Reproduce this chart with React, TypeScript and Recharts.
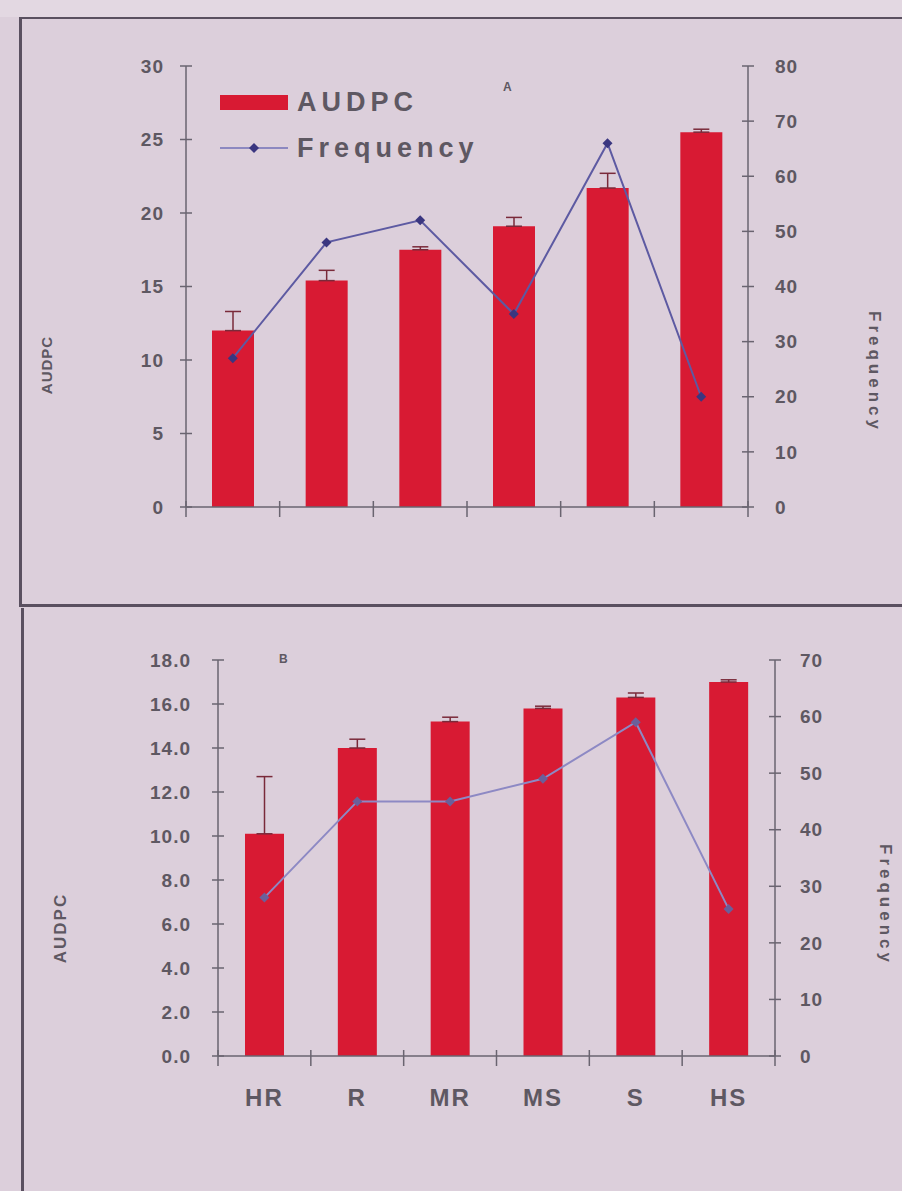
import React from 'react';
import {
  ComposedChart,
  Bar,
  Line,
  XAxis,
  YAxis,
  ErrorBar,
} from 'recharts';

const categories = ['HR', 'R', 'MR', 'MS', 'S', 'HS'];

// panel A
const audpcA = [12.0, 15.4, 17.5, 19.1, 21.7, 25.5];
const audpcErrA = [1.3, 0.7, 0.2, 0.6, 1.0, 0.2];
const freqA = [27, 48, 52, 35, 66, 20];
const leftTicksA = [0, 5, 10, 15, 20, 25, 30];
const rightTicksA = [0, 10, 20, 30, 40, 50, 60, 70, 80];

// panel B
const audpcB = [10.1, 14.0, 15.2, 15.8, 16.3, 17.0];
const audpcErrB = [2.6, 0.4, 0.2, 0.1, 0.2, 0.1];
const freqB = [28, 45, 45, 49, 59, 26];
const leftTicksB = [0, 2, 4, 6, 8, 10, 12, 14, 16, 18];
const rightTicksB = [0, 10, 20, 30, 40, 50, 60, 70];

const dataA = categories.map((c, i) => ({
  name: c,
  audpc: audpcA[i],
  err: [0, audpcErrA[i]],
  freq: freqA[i],
}));
const dataB = categories.map((c, i) => ({
  name: c,
  audpc: audpcB[i],
  err: [0, audpcErrB[i]],
  freq: freqB[i],
}));

const BG = '#dccfdb';
const TEXT = '#5e5862';
const AXIS = '#6a6470';
const RED = '#d81a33';
const FONT = '"Liberation Sans", Arial, sans-serif';

const makeXTick = (band: number, showLabel: boolean) => (props: any) => {
  const { x, y, payload, index } = props;
  return (
    <g key={`xt-${index}`}>
      <line x1={x - band / 2} x2={x - band / 2} y1={y - 6} y2={y + 10} stroke={AXIS} strokeWidth={1.5} />
      {index === categories.length - 1 && (
        <line x1={x + band / 2} x2={x + band / 2} y1={y - 6} y2={y + 10} stroke={AXIS} strokeWidth={1.5} />
      )}
      {showLabel && (
        <text
          x={x}
          y={y + 50}
          textAnchor="middle"
          fill={TEXT}
          fontFamily={FONT}
          fontWeight={700}
          fontSize={24}
          letterSpacing={2}
        >
          {payload.value}
        </text>
      )}
    </g>
  );
};

const makeYTick = (side: 'left' | 'right', gap: number, decimals: number) => (props: any) => {
  const { x, y, payload, index } = props;
  const tx = side === 'left' ? x - gap : x + gap;
  return (
    <g key={`yt-${side}-${index}`}>
      <line x1={x - 6} x2={x + 6} y1={y} y2={y} stroke={AXIS} strokeWidth={1.5} />
      <text
        x={tx}
        y={y}
        dy="0.35em"
        textAnchor={side === 'left' ? 'end' : 'start'}
        fill={TEXT}
        fontFamily={FONT}
        fontWeight={700}
        fontSize={19}
        letterSpacing={1}
      >
        {Number(payload.value).toFixed(decimals)}
      </text>
    </g>
  );
};

const diamond = (color: string) => (p: any) => {
  const { cx, cy, index } = p;
  return (
    <path
      key={`d-${index}`}
      d={`M${cx},${cy - 5}L${cx + 5},${cy}L${cx},${cy + 5}L${cx - 5},${cy}Z`}
      fill={color}
    />
  );
};

const LegendA = () => (
  <div
    style={{
      position: 'absolute',
      left: 220,
      top: 84,
      fontFamily: FONT,
      fontWeight: 700,
      color: TEXT,
      fontSize: 27,
      letterSpacing: 5,
    }}
  >
    <div style={{ display: 'flex', alignItems: 'center', height: 36 }}>
      <div style={{ width: 68, height: 15, background: RED, marginRight: 9 }} />
      <span>AUDPC</span>
    </div>
    <div style={{ display: 'flex', alignItems: 'center', height: 40, marginTop: 8 }}>
      <svg width={70} height={12} style={{ marginRight: 7 }}>
        <line x1={0} x2={68} y1={6} y2={6} stroke="#8c88c0" strokeWidth={2} />
        <path d="M34,1L39,6L34,11L29,6Z" fill="#3a3680" />
      </svg>
      <span>Frequency</span>
    </div>
  </div>
);

const vText = (label: string, cx: number, cy: number, rot: number, size: number, spacing: number) => (
  <div
    style={{
      position: 'absolute',
      left: cx,
      top: cy,
      transform: `translate(-50%, -50%) rotate(${rot}deg)`,
      fontFamily: FONT,
      fontWeight: 700,
      fontSize: size,
      letterSpacing: spacing,
      color: TEXT,
      whiteSpace: 'nowrap',
    }}
  >
    {label}
  </div>
);

export default function App() {
  const bandA = (748 - 186) / 6;
  const bandB = (775 - 218) / 6;
  return (
    <div
      style={{
        position: 'absolute',
        left: 0,
        top: 0,
        width: 902,
        height: 1191,
        background: BG,
        overflow: 'hidden',
      }}
    >
      <div style={{ position: 'absolute', left: 0, top: 0, width: 902, height: 17, background: '#e3d8e2' }} />
      <div
        style={{
          position: 'absolute',
          left: 19,
          top: 17,
          width: 900,
          height: 585,
          borderLeft: `3px solid #5a5060`,
          borderTop: `2px solid #5a5060`,
          borderBottom: `3px solid #5a5060`,
        }}
      />
      <div
        style={{
          position: 'absolute',
          left: 21,
          top: 608,
          width: 900,
          height: 600,
          borderLeft: `3px solid #5a5060`,
        }}
      />

      {/* Panel A */}
      <div style={{ position: 'absolute', left: 0, top: 0 }}>
        <ComposedChart
          width={902}
          height={600}
          data={dataA}
          margin={{ top: 66, right: 94, bottom: 63, left: 126 }}
        >
          <XAxis
            dataKey="name"
            height={30}
            interval={0}
            tickLine={false}
            tickSize={0}
            tickMargin={0}
            stroke={AXIS}
            strokeWidth={1.5}
            tick={makeXTick(bandA, false)}
          />
          <YAxis
            yAxisId="left"
            width={60}
            domain={[0, 30]}
            ticks={leftTicksA}
            tickLine={false}
            tickSize={0}
            tickMargin={0}
            stroke={AXIS}
            strokeWidth={1.5}
            tick={makeYTick('left', 22, 0)}
          />
          <YAxis
            yAxisId="right"
            orientation="right"
            width={60}
            domain={[0, 80]}
            ticks={rightTicksA}
            tickLine={false}
            tickSize={0}
            tickMargin={0}
            stroke={AXIS}
            strokeWidth={1.5}
            tick={makeYTick('right', 27, 0)}
          />
          <Bar yAxisId="left" dataKey="audpc" name="AUDPC" fill={RED} barSize={42} isAnimationActive={false}>
            <ErrorBar dataKey="err" width={8} stroke="#7a2a3a" strokeWidth={1.5} direction="y" />
          </Bar>
          <Line
            yAxisId="right"
            dataKey="freq"
            name="Frequency"
            type="linear"
            stroke="#5d5aa2"
            strokeWidth={2}
            dot={diamond('#3a3680')}
            isAnimationActive={false}
          />
        </ComposedChart>
      </div>
      <LegendA />

      {/* Panel B */}
      <div style={{ position: 'absolute', left: 0, top: 600 }}>
        <ComposedChart
          width={902}
          height={591}
          data={dataB}
          margin={{ top: 60, right: 67, bottom: 75, left: 148 }}
        >
          <XAxis
            dataKey="name"
            height={60}
            interval={0}
            tickLine={false}
            tickSize={0}
            tickMargin={0}
            stroke={AXIS}
            strokeWidth={1.5}
            tick={makeXTick(bandB, true)}
          />
          <YAxis
            yAxisId="left"
            width={70}
            domain={[0, 18]}
            ticks={leftTicksB}
            tickLine={false}
            tickSize={0}
            tickMargin={0}
            stroke={AXIS}
            strokeWidth={1.5}
            tick={makeYTick('left', 27, 1)}
          />
          <YAxis
            yAxisId="right"
            orientation="right"
            width={60}
            domain={[0, 70]}
            ticks={rightTicksB}
            tickLine={false}
            tickSize={0}
            tickMargin={0}
            stroke={AXIS}
            strokeWidth={1.5}
            tick={makeYTick('right', 25, 0)}
          />
          <Bar yAxisId="left" dataKey="audpc" name="AUDPC" fill={RED} barSize={39} isAnimationActive={false}>
            <ErrorBar dataKey="err" width={8} stroke="#7a2a3a" strokeWidth={1.5} direction="y" />
          </Bar>
          <Line
            yAxisId="right"
            dataKey="freq"
            name="Frequency"
            type="linear"
            stroke="#8d89c4"
            strokeWidth={2}
            dot={diamond('#6a5f9a')}
            isAnimationActive={false}
          />
        </ComposedChart>
      </div>

      {vText('AUDPC', 46, 365, -90, 15, 1)}
      {vText('Frequency', 874, 372, 90, 17, 4)}
      {vText('AUDPC', 61, 928, -90, 17, 2)}
      {vText('Frequency', 885, 905, 90, 17, 4)}

      <div style={{ position: 'absolute', left: 503, top: 80, fontFamily: FONT, fontSize: 12, color: TEXT, fontWeight: 700 }}>A</div>
      <div style={{ position: 'absolute', left: 279, top: 652, fontFamily: FONT, fontSize: 12, color: TEXT, fontWeight: 700 }}>B</div>
    </div>
  );
}
